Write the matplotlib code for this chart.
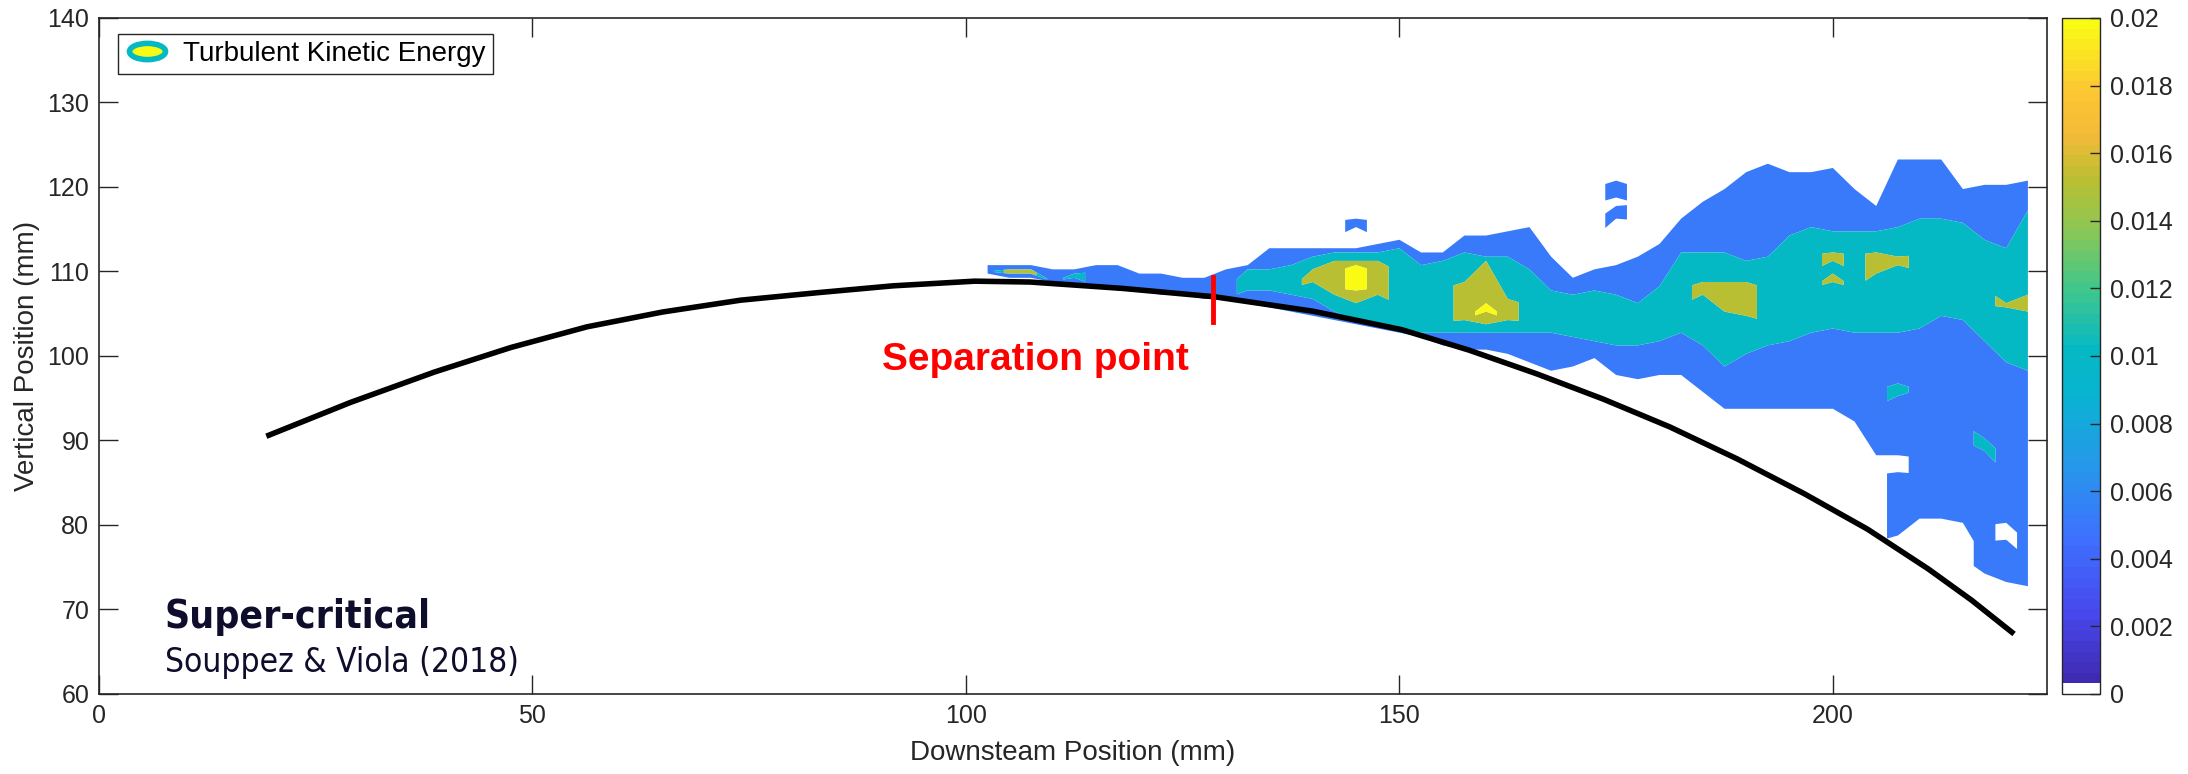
import numpy as np
import matplotlib
matplotlib.use("Agg")
import matplotlib.pyplot as plt
from matplotlib.colors import LinearSegmentedColormap, ListedColormap, Normalize
from matplotlib.cm import ScalarMappable
from matplotlib.path import Path
from matplotlib.lines import Line2D
from matplotlib.tri import Triangulation
from matplotlib import font_manager

plt.rcParams['font.family'] = ['Liberation Sans', 'DejaVu Sans']

# --- data ---------------------------------------------------------------
# hull profile (mm)
hull_x = [19.3, 29, 38.7, 47.5, 56.3, 65, 74, 83, 91.6, 101, 107.4, 118, 128.7,
          140, 150.3, 158, 165.8, 173.5, 181.2, 189, 196.7, 204, 211, 216, 220.9]
hull_y = [90.5, 94.5, 98.1, 101.0, 103.45, 105.2, 106.6, 107.5, 108.3, 108.85, 108.75,
          108.0, 107.0, 105.3, 103.1, 100.7, 97.9, 94.9, 91.6, 87.8, 83.7, 79.5, 74.8,
          71.1, 67.1]

separation_x = 128.5
separation_y = [104.0, 109.4]

# TKE stations every 2.5 mm downstream
x_stations = np.arange(102.5, 222.6, 2.5)

# band codes -> TKE value (m^2/s^2)
band_value = {'.': 0.0025, 'b': 0.0075, 'c': 0.0125, 'o': 0.0175, 'y': 0.0225}

# per station: "<band><y where it starts>" from bottom up
tke_profiles = [
    "b110 .111",                                                # 102.5
    "b109.5 o110 b110.5 .111",                                  # 105
    "b109.5 o110 b110.5 .111",                                  # 107.5
    "b109 .110.5",                                              # 110
    "b108.5 c109.5 b110 .110.5",                                # 112.5
    "b108.5 .111",                                              # 115
    "b108 .111",                                                # 117.5
    "b108 .110",                                                # 120
    "b107.5 .110",                                              # 122.5
    "b107.5 .109.5",                                            # 125
    "b107 .109.5",                                              # 127.5
    "b107 .110.5",                                              # 130
    "b106.5 c108 b110.5 .111",                                  # 132.5
    "b106 c108 b110.5 .113",                                    # 135
    "b105.5 c107.5 b111 .113",                                  # 137.5
    "b105 c107 o109 c110.5 b112 .113",                          # 140
    "b104.5 c105.5 o107.5 c111.5 b112.5 .113",                  # 142.5
    "b104 c104.5 o106.5 y108 o111 c111.5 b112.5 .113 b115.5 .116.5",  # 145
    "b103.5 c104 o107.5 c111.5 b112.5 .113.5",                  # 147.5
    "b103 c103.5 b113 .114",                                    # 150
    "b102.5 c103 b111 .112.5",                                  # 152.5
    "b101.5 c103 b111.5 .112.5",                                # 155
    "b101 c103 o104.5 c109 b112.5 .114.5",                      # 157.5
    "b101 c103 o104 y105.5 o106.5 c111.5 b112 .114.5",          # 160
    "b100.5 c103 o104.5 c107 b112 .115",                        # 162.5
    "b99.5 c103 b110.5 .115.5",                                 # 165
    "b98.5 c103 b108 .112",                                     # 167.5
    "b99 c102.5 b107.5 .109.5",                                 # 170
    "b100 c102 b108 .110.5",                                    # 172.5
    "b98 c101.5 b107.5 .111 b116.5 .118 b119 .121",             # 175
    "b97.5 c101.5 b106.5 .112",                                 # 177.5
    "b98 c102 b108.5 .113.5",                                   # 180
    "b98 c103 b112.5 .116.5",                                   # 182.5
    "b96 c101.5 o107.5 c109 b112.5 .118.5",                     # 185
    "b94 c99 o105.5 c109 b112.5 .120",                          # 187.5
    "b94 c100.5 o105 c109 b111.5 .122",                         # 190
    "b94 c101.5 b112 .123",                                     # 192.5
    "b94 c102 b114.5 .122",                                     # 195
    "b94 c103 b115.5 .122",                                     # 197.5
    "b94 c103.5 o109 c110 o111.5 c112.5 b115 .122.5",           # 200
    "b92.5 c103 b115 .120",                                     # 202.5
    "b88.5 c103 o110 c112.5 b115 .118",                         # 205
    "b79 .86.5 b88.5 c95.5 b97 c103 o111 c112 b115.5 .123.5",   # 207.5
    "b81 c103.5 b116.5 .123.5",                                 # 210
    "b81 c105 b116.5 .123.5",                                   # 212.5
    "b80.5 c104.5 b116 .120",                                   # 215
    "b74.5 c89 b90.5 c102 b114 .120.5",                         # 217.5
    "b73.5 .78.5 b80.5 c99.5 o106 c106.5 b113 .120.5",          # 220
    "b73 c98.5 o105.5 c107.5 b117.5 .121",                      # 222.5
]

contour_levels = [0.005, 0.01, 0.015, 0.02, 0.05]
cbar_ticks = [0, 0.002, 0.004, 0.006, 0.008, 0.01, 0.012, 0.014, 0.016, 0.018, 0.02]
cbar_labels = ['0', '0.002', '0.004', '0.006', '0.008', '0.01', '0.012', '0.014',
               '0.016', '0.018', '0.02']

# parula-like colour anchors
parula_t = [0.0, 0.111, 0.222, 0.333, 0.444, 0.508, 0.60, 0.69, 0.762, 0.83, 0.90, 1.0]
parula_rgb = [(0.2422, 0.1504, 0.6603), (0.2803, 0.2782, 0.9221), (0.2440, 0.4358, 0.9988),
              (0.1540, 0.5902, 0.9218), (0.0297, 0.7082, 0.8163), (0.02, 0.725, 0.77),
              (0.25, 0.78, 0.55), (0.55, 0.78, 0.33), (0.72, 0.75, 0.20),
              (0.95, 0.73, 0.22), (0.99, 0.78, 0.20), (0.9769, 0.9839, 0.0805)]


# --- build a triangulated field from the station profiles ------------------
def parse(prof):
    edges, below = [], '.'
    for tok in prof.split():
        edges.append((below + tok[0], float(tok[1:]) - 0.25, below, tok[0]))
        below = tok[0]
    return edges


def band_at(edges, y):
    code = '.'
    for e in edges:
        if e[1] <= y:
            code = e[3]
    return code


GAP = 3.0


def align(ta, tb):
    # match band edges of the same kind between neighbouring stations
    n, m = len(ta), len(tb)
    D = np.full((n + 1, m + 1), np.inf)
    D[0, 0] = 0.0
    step = {}
    for i in range(n + 1):
        for j in range(m + 1):
            if i and D[i - 1, j] + GAP < D[i, j]:
                D[i, j] = D[i - 1, j] + GAP
                step[i, j] = (i - 1, j)
            if j and D[i, j - 1] + GAP < D[i, j]:
                D[i, j] = D[i, j - 1] + GAP
                step[i, j] = (i, j - 1)
            if i and j and ta[i - 1][0] == tb[j - 1][0]:
                c = D[i - 1, j - 1] + abs(ta[i - 1][1] - tb[j - 1][1])
                if c < D[i, j]:
                    D[i, j] = c
                    step[i, j] = (i - 1, j - 1)
    pairs = []
    i, j = n, m
    while (i, j) != (0, 0):
        pi, pj = step[i, j]
        if pi == i - 1 and pj == j - 1:
            pairs.append((ta[i - 1][1], tb[j - 1][1]))
        i, j = pi, pj
    return pairs[::-1]


def to_frame(y, pairs):
    if not pairs:
        return y
    a = np.array([p[0] for p in pairs])
    b = np.array([p[1] for p in pairs])
    if y <= b[0]:
        return y + a[0] - b[0]
    if y >= b[-1]:
        return y + a[-1] - b[-1]
    return float(np.interp(y, b, a))


fillers = np.arange(72, 125, 2.0)
px, py, pv, station_nodes, station_edges = [], [], [], [], []
for x, prof in zip(x_stations, tke_profiles):
    edges = parse(prof)
    nodes = [(y, band_value[band_at(edges, y)]) for y in fillers]
    for kind, e, lo, hi in edges:
        nodes += [(e - 0.05, band_value[lo]), (e + 0.05, band_value[hi])]
    nodes.sort()
    idx = []
    for y, v in nodes:
        idx.append(len(px))
        px.append(x)
        py.append(y)
        pv.append(v)
    station_nodes.append(idx)
    station_edges.append(edges)
px, py, pv = np.array(px), np.array(py), np.array(pv)

tris = []
for k in range(len(station_nodes) - 1):
    A, B = station_nodes[k], station_nodes[k + 1]
    pairs = align(station_edges[k], station_edges[k + 1])
    ya = [py[n] for n in A]
    yb = [to_frame(py[n], pairs) for n in B]
    i = j = 0
    while i < len(A) - 1 or j < len(B) - 1:
        if j == len(B) - 1 or (i < len(A) - 1 and ya[i + 1] <= yb[j + 1]):
            tris.append([A[i], B[j], A[i + 1]])
            i += 1
        else:
            tris.append([A[i], B[j], B[j + 1]])
            j += 1
tri = Triangulation(px, py, np.array(tris))

base = LinearSegmentedColormap.from_list('parula', list(zip(parula_t, parula_rgb)), N=64)
cols = base(np.linspace(0, 1, 64))
cols[0] = (1, 1, 1, 1)
cmap = ListedColormap(cols)
norm = Normalize(0, 0.02)
fill_colors = [cmap(norm(l)) for l in contour_levels[:-1]]

dark = '#262626'

fig = plt.figure(figsize=(21.88, 7.74), dpi=100)
ax = fig.add_axes([0.04525, 0.1034, 0.8903, 0.8734])

ax.tricontourf(tri, pv, levels=contour_levels, colors=fill_colors, antialiased=True, zorder=1)
ax.plot(hull_x, hull_y, color='black', lw=4, solid_capstyle='butt', zorder=3)
ax.plot([separation_x, separation_x], separation_y, color='#ff0000', lw=3.5, zorder=4)

ax.text(108, 98.3, 'Separation point', color='#ff0000', fontsize=28,
        fontweight='bold', ha='center', va='baseline')

# annotation font
cond = any(f.name == 'DejaVu Sans' and 'cond' in str(f.stretch)
           for f in font_manager.fontManager.ttflist)
if cond:
    t_size, s_size, stretch = 28, 24, 'condensed'
else:
    t_size, s_size, stretch = 25, 21.5, 'normal'
ax.text(7.6, 67.8, 'Super-critical', color='#0e0e2c', fontsize=t_size, fontweight='bold',
        family='DejaVu Sans', fontstretch=stretch, va='baseline')
ax.text(7.6, 62.55, 'Souppez & Viola (2018)', color='#0e0e2c', fontsize=s_size,
        family='DejaVu Sans', fontstretch=stretch, va='baseline')

ax.set_xlim(0, 224.7)
ax.set_ylim(60, 140)
ax.set_xticks([0, 50, 100, 150, 200])
ax.set_yticks(np.arange(60, 141, 10))
ax.tick_params(direction='in', top=True, right=True, length=14, width=1,
               color=dark, labelcolor=dark, labelsize=18, pad=7)
for s in ax.spines.values():
    s.set_color(dark)
    s.set_linewidth(1.2)
ax.set_xlabel('Downsteam Position (mm)', fontsize=20, color=dark, labelpad=9)
ax.set_ylabel('Vertical Position (mm)', fontsize=20, color=dark, labelpad=5)

# legend with an elliptical contour icon
circ = Path.unit_circle()
ellipse = Path(circ.vertices * np.array([1.0, 0.45]), circ.codes)
handle = Line2D([], [], linestyle='none', marker=ellipse, markersize=26,
                markerfacecolor=cmap(norm(0.02)), markeredgecolor=cmap(norm(0.01)),
                markeredgewidth=4)
leg = ax.legend([handle], ['Turbulent Kinetic Energy'], loc='upper left',
                bbox_to_anchor=(0.00975, 0.976), borderaxespad=0, fontsize=20,
                handlelength=1.6, handletextpad=0.5, borderpad=0.25, fancybox=False,
                framealpha=1, edgecolor=dark)
leg.get_frame().set_linewidth(1.0)

# colour bar
cax = fig.add_axes([0.9424, 0.1034, 0.0174, 0.8734])
cb = fig.colorbar(ScalarMappable(norm=norm, cmap=cmap), cax=cax, ticks=cbar_ticks)
cb.ax.set_yticklabels(cbar_labels)
cb.ax.tick_params(direction='in', length=7, width=1, color=dark, labelcolor=dark,
                  labelsize=18, pad=7)
cb.outline.set_edgecolor(dark)
cb.outline.set_linewidth(1.0)

fig.savefig('out.png', dpi=100)
